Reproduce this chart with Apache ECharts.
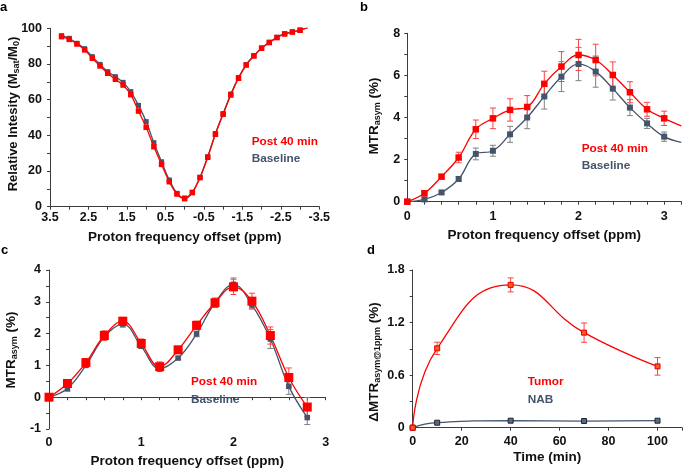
<!DOCTYPE html>
<html><head><meta charset="utf-8">
<script src="https://cdn.jsdelivr.net/npm/echarts@6/dist/echarts.min.js"></script>
<style>html,body{margin:0;padding:0;background:#fff}#c{width:685px;height:469px}</style>
</head><body><div id="c"></div>
<script>
// ---------- Panel a: Z-spectra ----------
const aX = [3.2,3.0,2.8,2.6,2.4,2.2,2.0,1.8,1.6,1.4,1.2,1.0,0.8,0.6,0.4,0.2,0.0,-0.2,-0.4,-0.6,-0.8,-1.0,-1.2,-1.4,-1.6,-1.8,-2.0,-2.2,-2.4,-2.6,-2.8,-3.0,-3.2];
const aPost = [95.3,93.8,91.2,87.9,83.2,78.9,74.8,71.4,68.2,62.8,53.6,44.5,33.6,23.7,14.0,7.1,4.5,7.9,16.3,27.7,40.6,51.8,62.6,72.0,79.4,84.5,88.8,92.0,94.8,96.8,97.9,98.9,100.5];
const aBase = [95.9,94.4,91.6,88.6,84.1,79.8,75.7,72.9,69.7,64.5,56.8,47.7,35.9,25.2,15.0,7.5,4.9,8.1,16.5,28.0,41.0,52.2,63.2,72.4,79.7,84.7,89.0,92.2,95.0,97.0,98.0,99.0,100.4];

// ---------- Panel b: MTRasym ----------
const bX = [0,0.2,0.4,0.6,0.8,1.0,1.2,1.4,1.6,1.8,2.0,2.2,2.4,2.6,2.8,3.0];
const bPost = [0,0.40,1.19,2.10,3.44,3.96,4.36,4.50,5.60,6.42,6.97,6.73,6.02,5.20,4.39,3.96];
const bPostErr = [0,0.10,0.10,0.25,0.44,0.49,0.53,0.54,0.60,0.71,0.74,0.75,0.62,0.50,0.33,0.34];
const bBase = [0,0.11,0.44,1.08,2.27,2.42,3.20,4.00,5.00,5.94,6.54,6.18,5.37,4.47,3.72,3.09];
const bBaseErr = [0,0.05,0.07,0.10,0.28,0.26,0.38,0.53,0.60,0.71,0.79,0.74,0.54,0.38,0.24,0.22];
const bFitEndX = 3.2;
const bPostFitEnd = 3.6;
const bBaseFitEnd = 2.82;

// ---------- Panel c: MTRasym ----------
const cX = [0,0.2,0.4,0.6,0.8,1.0,1.2,1.4,1.6,1.8,2.0,2.2,2.4,2.6,2.8];
const cPost = [0,0.43,1.09,1.94,2.39,1.69,0.96,1.49,2.26,2.97,3.47,3.02,1.94,0.62,-0.31];
const cPostErr = [0,0.07,0.10,0.15,0.12,0.14,0.15,0.08,0.13,0.15,0.24,0.25,0.27,0.30,0.30];
const cBase = [0,0.27,1.00,1.90,2.30,1.60,0.90,1.23,1.99,2.97,3.55,2.90,1.83,0.34,-0.64];
const cBaseErr = [0,0.08,0.06,0.10,0.10,0.05,0.06,0.03,0.09,0.12,0.20,0.10,0.30,0.25,0.22];

// ---------- Panel d: delta MTRasym@1ppm vs time ----------
const dX = [0,10,40,70,100];
const dTumor = [0,0.906,1.63,1.085,0.70];
const dTumorErr = [0,0.07,0.08,0.11,0.10];
const dNAB = [0,0.057,0.08,0.076,0.08];
const dNABErr = [0,0,0,0,0];

// ---------- styles ----------
const FONT = "'Liberation Sans', Arial, sans-serif";
const RED = '#ff0000';
const GRAY = '#44546a';
const AXIS = '#3c3c3c';

function zip(xs, ys) { return xs.map((x, i) => [x, ys[i]]); }
function errData(xs, ys, es) {
  const out = [];
  xs.forEach((x, i) => { if (es[i] > 0) out.push([x, ys[i] - es[i], ys[i] + es[i]]); });
  return out;
}
function valAxis(gi, o) {
  return Object.assign({
    type: 'value', gridIndex: gi,
    axisLine: { show: true, onZero: false, lineStyle: { color: AXIS, width: 1 } },
    axisTick: { show: true, length: 3, lineStyle: { color: AXIS } },
    splitLine: { show: false }
  }, o, { axisLabel: Object.assign({ fontFamily: FONT, fontWeight: 'bold', fontSize: 12.5, color: '#111', margin: 6 }, (o && o.axisLabel) || {}) });
}
function isInt(v) { return Math.abs(v - Math.round(v)) < 1e-6; }

function errSeries(gi, data, color, cap) {
  return {
    type: 'custom', xAxisIndex: gi, yAxisIndex: gi, data: data, z: 3,
    renderItem: function (params, api) {
      const x = api.value(0);
      const p1 = api.coord([x, api.value(1)]);
      const p2 = api.coord([x, api.value(2)]);
      const st = { stroke: color, lineWidth: 1 };
      return { type: 'group', children: [
        { type: 'line', shape: { x1: p1[0], y1: p1[1], x2: p2[0], y2: p2[1] }, style: st },
        { type: 'line', shape: { x1: p1[0] - cap, y1: p1[1], x2: p1[0] + cap, y2: p1[1] }, style: st },
        { type: 'line', shape: { x1: p2[0] - cap, y1: p2[1], x2: p2[0] + cap, y2: p2[1] }, style: st }
      ]};
    }
  };
}
function fitLine(gi, data, color, smooth) {
  return { type: 'line', xAxisIndex: gi, yAxisIndex: gi, data: data, smooth: smooth, showSymbol: false,
    symbol: 'none', lineStyle: { color: color, width: 1.3 }, z: 2, animation: false };
}
function markers(gi, data, color, size, border) {
  return { type: 'scatter', xAxisIndex: gi, yAxisIndex: gi, data: data, symbol: 'rect', symbolSize: size,
    itemStyle: { color: color, borderColor: border || color, borderWidth: border ? 1 : 0, opacity: 1 }, z: 4, animation: false };
}

const titleStyle = { fontFamily: FONT, fontWeight: 'bold', fontSize: 13.5, color: '#111' };
const subRich = { sub: { fontFamily: FONT, fontWeight: 'bold', fontSize: 9, fill: '#111', verticalAlign: 'bottom', padding: [7, 0, 0, 0] } };

function yTitle(x, y, text, size) {
  return { type: 'text', x: x, y: y, rotation: Math.PI / 2, z: 10,
    style: { text: text, rich: subRich, fontFamily: FONT, fontWeight: 'bold', fontSize: size || 13.5, fill: '#111', align: 'center', verticalAlign: 'middle' } };
}
function label(x, y, text, color, size) {
  return { type: 'text', x: x, y: y, z: 10,
    style: { text: text, fontFamily: FONT, fontWeight: 'bold', fontSize: size || 11.8, fill: color, align: 'left', verticalAlign: 'middle' } };
}

const chart = echarts.init(document.getElementById('c'), null, { renderer: 'canvas' });
const option = {
  animation: false,
  backgroundColor: '#fff',
  grid: [
    { left: 50, top: 28.3, width: 269.3, height: 178.4 },
    { left: 407.3, top: 33.3, width: 274, height: 168.4 },
    { left: 49, top: 270, width: 276.7, height: 195 },
    { left: 412.7, top: 270, width: 271.3, height: 157.7 }
  ],
  xAxis: [
    valAxis(0, { min: -3.5, max: 3.5, interval: 0.5, inverse: true,
      name: 'Proton frequency offset (ppm)', nameLocation: 'middle', nameGap: 24, nameTextStyle: titleStyle,
      axisLabel: { margin: 4, formatter: v => (Math.abs(Math.round(v * 2)) % 2 === 1 ? String(v) : '') } }),
    valAxis(1, { min: 0, max: 3.2, interval: 0.2,
      name: 'Proton frequency offset (ppm)', nameLocation: 'middle', nameGap: 27, nameTextStyle: titleStyle,
      axisLabel: { margin: 8, formatter: v => (isInt(v) ? String(Math.round(v)) : '') } }),
    valAxis(2, { min: 0, max: 3, interval: 0.2,
      axisLine: { show: true, onZero: true, lineStyle: { color: AXIS, width: 1 } },
      name: 'Proton frequency offset (ppm)', nameLocation: 'middle', nameGap: 25, nameTextStyle: titleStyle,
      axisLabel: { margin: 7, formatter: v => (isInt(v) ? String(Math.round(v)) : '') } }),
    valAxis(3, { min: 0, max: 110, interval: 20,
      name: 'Time (min)', nameLocation: 'middle', nameGap: 23, nameTextStyle: titleStyle,
      axisLabel: { margin: 7, formatter: v => (v <= 100 ? String(v) : '') } })
  ],
  yAxis: [
    valAxis(0, { min: 0, max: 100, interval: 10,
      axisLabel: { margin: 8, formatter: v => (v % 20 === 0 ? String(v) : '') } }),
    valAxis(1, { min: 0, max: 8, interval: 1,
      axisLabel: { margin: 7, formatter: v => (v % 2 === 0 ? String(v) : '') } }),
    valAxis(2, { min: -1, max: 4, interval: 0.5,
      axisLabel: { margin: 8, formatter: v => (isInt(v) ? String(Math.round(v)) : '') } }),
    valAxis(3, { min: 0, max: 1.8, interval: 0.3,
      axisLabel: { margin: 8, formatter: v => { const k = Math.round(v / 0.3); return k % 2 === 0 ? (k === 0 ? '0' : (k * 0.3).toFixed(1)) : ''; } } })
  ],
  series: [
    // a
    { type: 'line', xAxisIndex: 0, yAxisIndex: 0, data: zip(aX, aBase), smooth: 0.3, symbol: 'rect', symbolSize: 5,
      lineStyle: { color: GRAY, width: 1.3 }, itemStyle: { color: GRAY }, z: 2 },
    { type: 'line', xAxisIndex: 0, yAxisIndex: 0, data: zip(aX, aPost), smooth: 0.3, symbol: 'rect', symbolSize: 5.5,
      lineStyle: { color: RED, width: 1.3 }, itemStyle: { color: RED }, z: 3 },
    // b
    errSeries(1, errData(bX, bBase, bBaseErr), '#808080', 3),
    fitLine(1, zip(bX, bBase).concat([[bFitEndX, bBaseFitEnd]]), GRAY, 0.4),
    markers(1, zip(bX, bBase), GRAY, 6),
    errSeries(1, errData(bX, bPost, bPostErr), '#ff4040', 3),
    fitLine(1, zip(bX, bPost).concat([[bFitEndX, bPostFitEnd]]), RED, 0.4),
    markers(1, zip(bX, bPost), RED, 6.5),
    // c
    errSeries(2, errData(cX, cBase, cBaseErr), '#808080', 3),
    fitLine(2, zip(cX, cBase), GRAY, 0.4),
    markers(2, zip(cX, cBase), GRAY, 5.5),
    errSeries(2, errData(cX, cPost, cPostErr), '#ff4040', 3),
    fitLine(2, zip(cX, cPost), RED, 0.4),
    markers(2, zip(cX, cPost), RED, 9),
    // d
    errSeries(3, errData(dX, dNAB, dNABErr), '#808080', 3),
    fitLine(3, zip(dX, dNAB), GRAY, 0.5),
    markers(3, zip(dX, dNAB), '#5a6a80', 5, '#1e2633'),
    errSeries(3, errData(dX, dTumor, dTumorErr), '#ff4040', 3),
    fitLine(3, zip(dX, dTumor), RED, 0.5),
    markers(3, zip(dX, dTumor), '#ff5a1a', 5, '#e00000')
  ],
  graphic: [
    label(0, 7, 'a', '#000', 13), label(360, 7, 'b', '#000', 13),
    label(1, 250, 'c', '#000', 13), label(367, 250, 'd', '#000', 13),
    yTitle(13, 114, 'Relative Intesity (M{sub|sat}/M{sub|0})', 13),
    yTitle(374, 116, 'MTR{sub|asym} (%)'),
    yTitle(11, 350, 'MTR{sub|asym} (%)'),
    yTitle(374, 362, 'ΔMTR{sub|asym@1ppm} (%)'),
    label(251.7, 142, 'Post 40 min', RED), label(251.7, 158.7, 'Baseline', GRAY),
    label(581.7, 148.3, 'Post 40 min', RED), label(581.7, 166, 'Baseline', GRAY),
    label(191, 381.7, 'Post 40 min', RED), label(191, 399.3, 'Baseline', GRAY),
    label(527.7, 382, 'Tumor', RED), label(527.7, 399.3, 'NAB', GRAY)
  ]
};
chart.setOption(option);
</script></body></html>
